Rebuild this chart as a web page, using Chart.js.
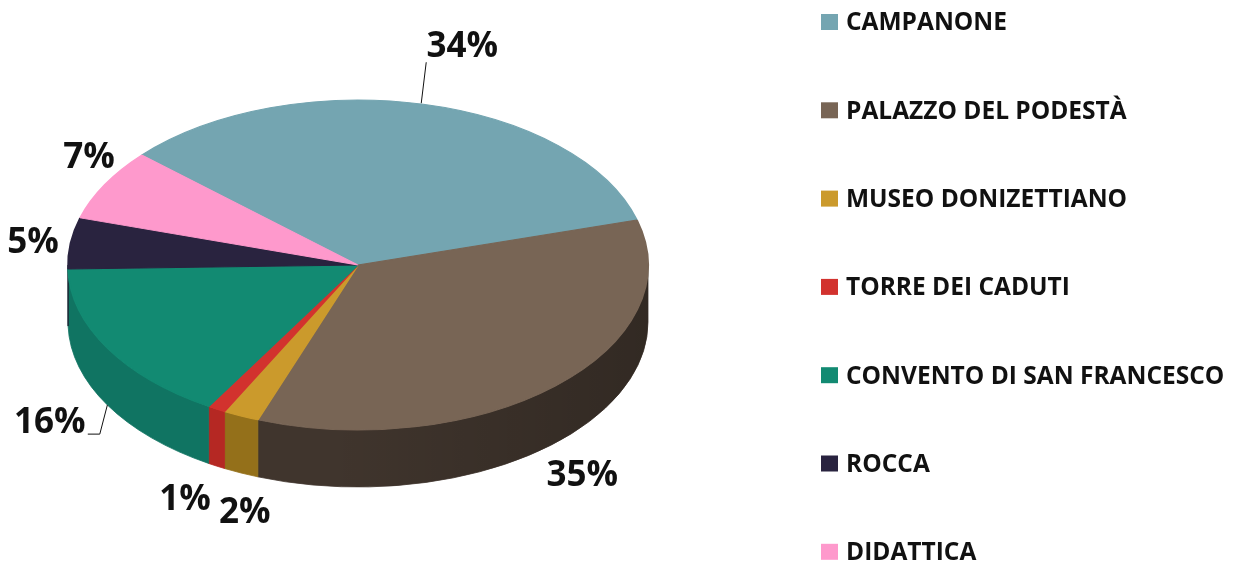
<!DOCTYPE html>
<html><head><meta charset="utf-8">
<script src="https://cdn.jsdelivr.net/npm/chart.js@4.4.1/dist/chart.umd.min.js"></script>
<style>html,body{margin:0;padding:0;background:#fff;}#wrap{width:1245px;height:567px;}</style>
</head><body><div id="wrap"><canvas id="c" width="1245" height="567"></canvas></div>
<script>
// ---- data ----
const categories = ['CAMPANONE','PALAZZO DEL PODESTÀ','MUSEO DONIZETTIANO','TORRE DEI CADUTI','CONVENTO DI SAN FRANCESCO','ROCCA','DIDATTICA'];
const shares = [34, 35, 2, 1, 16, 5, 7];

// ---- style ----
const topColors  = ['#74A5B1','#786555','#CB9A2C','#D2322E','#128A72','#29233F','#FE99CC'];
const sideColors = ['#4E7780','#40352D','#94701A','#B52823','#107462','#1C182C','#C8709C'];
const RX = 290, RY = 165, DEPTH = 57;
const labelPad = 40;
const labelNudge = [[30,-18],[0,4],[20,3],[-12,-1],[-23,-2],[2,5],[19,-7]];
const FONT = '"Open Sans", "DejaVu Sans", sans-serif';

const pie3d = {
  id: 'pie3d',
  beforeDatasetsDraw(chart){
    const meta = chart.getDatasetMeta(0);
    const ctx = chart.ctx;
    const {x, y, outerRadius: r} = meta.data[0];
    // side walls (visible front half, angles 0..PI)
    meta.data.forEach((arc, i) => {
      const s = arc.startAngle, e = arc.endAngle;
      for (let k = -1; k <= 1; k++) {
        const lo = Math.max(s, k*2*Math.PI), hi = Math.min(e, k*2*Math.PI + Math.PI);
        if (hi > lo) {
          ctx.save();
          ctx.beginPath();
          ctx.ellipse(x, y, RX, RY, 0, lo, hi, false);
          ctx.lineTo(x + RX*Math.cos(hi), y + RY*Math.sin(hi) + DEPTH);
          ctx.ellipse(x, y + DEPTH, RX, RY, 0, hi, lo, true);
          ctx.closePath();
          ctx.fillStyle = sideColors[i];
          ctx.fill();
          ctx.strokeStyle = sideColors[i];
          ctx.lineWidth = 0.8;
          ctx.stroke();
          const g = ctx.createLinearGradient(x - RX, 0, x + RX, 0);
          g.addColorStop(0, 'rgba(0,0,0,0)');
          g.addColorStop(0.45, 'rgba(0,0,0,0)');
          g.addColorStop(1, 'rgba(0,0,0,0.22)');
          ctx.fillStyle = g;
          ctx.fill();
          ctx.restore();
        }
      }
    });
    ctx.save();
    ctx.translate(x, y);
    ctx.scale(RX / r, RY / r);
    ctx.translate(-x, -y);
  },
  afterDatasetsDraw(chart){
    const ctx = chart.ctx;
    ctx.restore();
    const meta = chart.getDatasetMeta(0);
    const {x, y} = meta.data[0];
    ctx.save();
    ctx.fillStyle = '#111';
    ctx.textAlign = 'center';
    ctx.textBaseline = 'middle';
    ctx.font = 'bold 35px ' + FONT;
    meta.data.forEach((arc, i) => {
      const m = (arc.startAngle + arc.endAngle) / 2;
      const c = Math.cos(m), s = Math.sin(m);
      const lx = x + (RX + labelPad) * c + labelNudge[i][0];
      const ly = y + (RY + labelPad) * s + (s > 0 ? DEPTH : 0) + labelNudge[i][1];
      ctx.fillText(shares[i] + '%', lx, ly);
      ctx.strokeStyle = '#111';
      ctx.lineWidth = 1;
      if (i === 0) {
        ctx.beginPath();
        ctx.moveTo(x + RX*c - 2, y + RY*s - 1);
        ctx.lineTo(lx - 36, ly + 15);
        ctx.stroke();
      }
      if (i === 4) {
        const ex = x + RX*c, ey = y + RY*s + DEPTH;
        ctx.beginPath();
        ctx.moveTo(ex, ey);
        ctx.lineTo(lx + 50, ly + 11);
        ctx.lineTo(lx + 38, ly + 11);
        ctx.stroke();
      }
    });
    ctx.restore();
  },
  afterDraw(chart){
    const ctx = chart.ctx;
    ctx.save();
    ctx.textBaseline = 'middle';
    ctx.textAlign = 'left';
    ctx.font = 'bold 24.5px ' + FONT;
    categories.forEach((lab, i) => {
      const cy = 22 + i * 88.3;
      ctx.fillStyle = topColors[i];
      ctx.fillRect(821, cy - 8, 17, 16);
      ctx.fillStyle = '#111';
      ctx.fillText(lab, 846, cy + 1.5);
    });
    ctx.restore();
  }
};

new Chart(document.getElementById('c'), {
  type: 'pie',
  data: {
    labels: categories,
    datasets: [{
      data: shares,
      backgroundColor: topColors,
      borderColor: topColors,
      borderWidth: 1
    }]
  },
  options: {
    responsive: false,
    devicePixelRatio: 1,
    animation: false,
    events: [],
    rotation: -48.2,
    layout: { padding: { left: 0, right: 529, top: 100, bottom: 137 } },
    plugins: { legend: { display: false }, tooltip: { enabled: false } }
  },
  plugins: [pie3d]
});
</script>
</body></html>
